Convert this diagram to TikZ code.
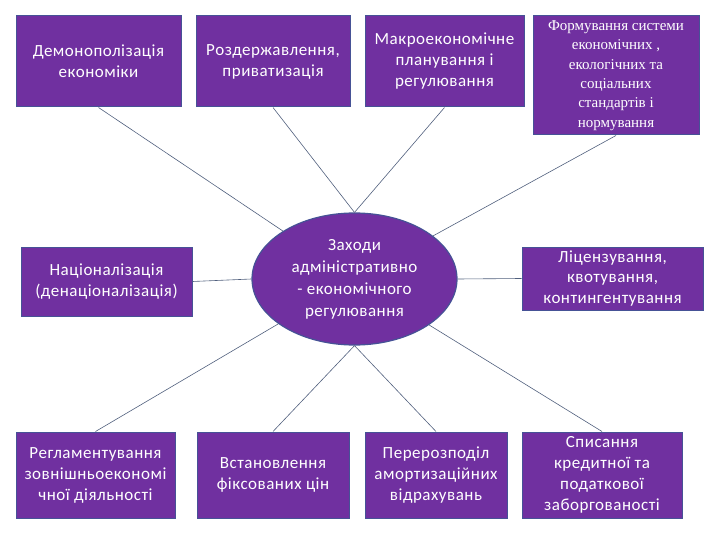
\documentclass[tikz,border=0pt]{standalone}
\usepackage{fontspec}
\setmainfont{Carlito}[LetterSpace=3]
\newfontfamily\serifcyr{Liberation Serif}
\usetikzlibrary{shapes.geometric}
\definecolor{boxfill}{RGB}{112,48,160}
\definecolor{boxline}{RGB}{70,82,150}
\definecolor{connline}{RGB}{80,95,125}
\tikzset{
  pbox/.style={rectangle, fill=boxfill, draw=boxline, line width=1pt, inner sep=0pt,
    text=white, align=center, font=\fontsize{17}{21}\selectfont},
  pell/.style={ellipse, fill=boxfill, draw=boxline, line width=1.2pt, inner sep=0pt,
    text=white, align=center, font=\fontsize{17}{22}\selectfont,
    minimum width=205pt, minimum height=132pt},
  conn/.style={draw=connline, line width=0.6pt}
}
\begin{document}
\begin{tikzpicture}[x=1pt,y=-1pt]
\useasboundingbox (0,0) rectangle (720,540);
% top row
\node[pbox, minimum width=165pt, minimum height=91pt] (b1) at (98.5,61.5) {Демонополізація\\економіки};
\node[pbox, minimum width=154pt, minimum height=91pt] (b2) at (273,61.5) {Роздержавлення,\\приватизація};
\node[pbox, minimum width=159pt, minimum height=91pt] (b3) at (444.5,61.5) {Макроекономічне\\планування і\\регулювання};
\node[pbox, minimum width=166pt, minimum height=119pt, font=\serifcyr\fontsize{15}{19.4}\selectfont] (b4) at (616,75.5) {Формування системи\\економічних ,\\екологічних та\\соціальних\\стандартів і\\нормування};
% middle row
\node[pbox, minimum width=171pt, minimum height=69pt] (nat) at (106.5,281.5) {Націоналізація\\(денаціоналізація)};
\node[pell] (ell) at (354.5,279) {Заходи\\адміністративно\\- економічного\\регулювання};
\node[pbox, minimum width=181pt, minimum height=63pt, font=\fontsize{17}{20.5}\selectfont] (lic) at (612.5,278.5) {Ліцензування,\\квотування,\\контингентування};
% bottom row
\node[pbox, minimum width=159pt, minimum height=86pt] (r1) at (95.5,475) {Регламентування\\зовнішньоекономі\\чної діяльності};
\node[pbox, minimum width=152pt, minimum height=86pt] (r2) at (273,475) {Встановлення\\фіксованих цін};
\node[pbox, minimum width=142pt, minimum height=86pt] (r3) at (436,475) {Перерозподіл\\амортизаційних\\відрахувань};
\node[pbox, minimum width=160pt, minimum height=86pt] (r4) at (602,475) {Списання\\кредитної та\\податкової\\заборгованості};
% connectors
\draw[conn] (b1.south) -- (ell);
\draw[conn] (b2.south) -- (ell.north);
\draw[conn] (b3.south) -- (ell.north);
\draw[conn] (b4.south) -- (ell);
\draw[conn] (nat.east) -- (ell.west);
\draw[conn] (lic.west) -- (ell.east);
\draw[conn] (r1.north) -- (ell);
\draw[conn] (r2.north) -- (ell.south);
\draw[conn] (r3.north) -- (ell.south);
\draw[conn] (r4.north) -- (ell);
\end{tikzpicture}
\end{document}
